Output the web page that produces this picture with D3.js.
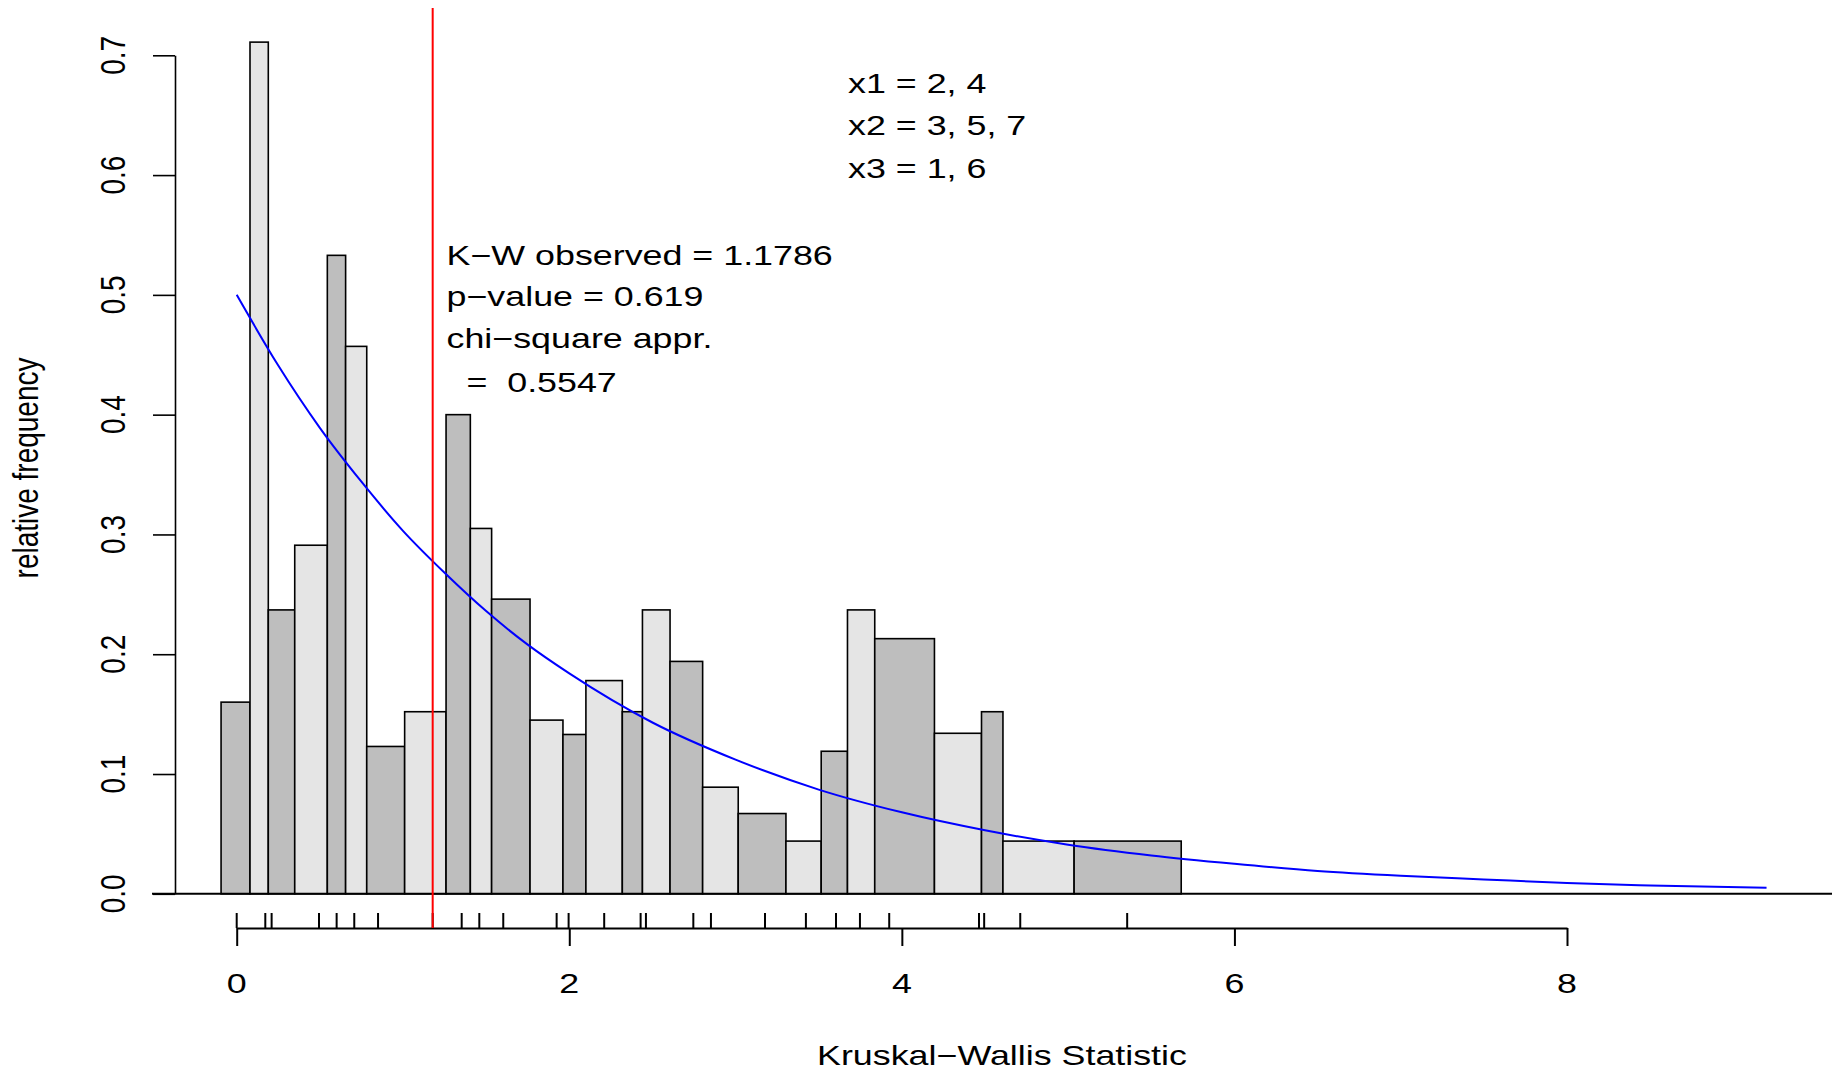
<!DOCTYPE html>
<html>
<head>
<meta charset="utf-8">
<script src="https://cdn.jsdelivr.net/npm/d3@7"></script>
<style>
  body { margin: 0; background: #ffffff; }
  text { font-family: "Liberation Sans", Arial, Helvetica, sans-serif; font-size: 28px; fill: #000; }
</style>
</head>
<body>
<div id="chart"></div>
<script>

//Histogram bins: edges (statistic units) and heights (relative frequency)
var binEdges = [-0.094, 0.080, 0.190, 0.349, 0.545, 0.655, 0.782, 1.010, 1.259, 1.405,
  1.533, 1.764, 1.962, 2.100, 2.319, 2.440, 2.606, 2.802, 3.016, 3.303,
  3.515, 3.673, 3.837, 4.196, 4.479, 4.608, 5.036, 5.680];
var binHeights = [0.160, 0.711, 0.237, 0.291, 0.533, 0.457, 0.123, 0.152, 0.400, 0.305,
  0.246, 0.145, 0.133, 0.178, 0.152, 0.237, 0.194, 0.089, 0.067, 0.044,
  0.119, 0.237, 0.213, 0.134, 0.152, 0.044, 0.044];

//distinct values of the statistic (rug)
var rugValues = [0, 0.172, 0.210, 0.495, 0.601, 0.707, 0.850, 1.1786, 1.353, 1.459,
  1.603, 1.924, 1.996, 2.210, 2.429, 2.461, 2.746, 2.852, 3.177, 3.423,
  3.604, 3.748, 3.924, 4.464, 4.495, 4.712, 5.355];

//chi-square curve
var curveX = [0, 0.25, 0.5, 0.75, 1, 1.25, 1.5, 1.75, 2, 2.5, 3, 3.5, 4, 4.5, 5,
  5.5, 6, 6.5, 7, 7.5, 8, 8.5, 9.2];
var curveY = [0.500, 0.441, 0.389, 0.344, 0.303, 0.268, 0.236, 0.208, 0.184, 0.143,
  0.112, 0.087, 0.068, 0.053, 0.041, 0.032, 0.025, 0.019, 0.015, 0.012,
  0.009, 0.007, 0.005];

var xTicks = [0, 2, 4, 6, 8];
var yTicks = [0, 0.1, 0.2, 0.3, 0.4, 0.5, 0.6, 0.7];
var observed = 1.1786;

var groupLines = ["x1 = 2, 4", "x2 = 3, 5, 7", "x3 = 1, 6"];
var statLines = ["K\u2212W observed = 1.1786", "p\u2212value = 0.619", "chi\u2212square appr.", "  =  0.5547"];

var svgWidth = 1832;
var svgHeight = 1070;
//text in the picture is stretched sideways
var stretch = 1.28;

var svg = d3.select("#chart")
  .append("svg")
  .attr("width", svgWidth)
  .attr("height", svgHeight);

var xScale = d3.scaleLinear()
  .domain([0, 8])
  .range([236.7, 1567]);
var yScale = d3.scaleLinear()
  .domain([0, 0.7])
  .range([893.8, 55.3]);

//helper for stretched text
function addText(x, y, str, anchor, rot) {
  var t = svg.append("text")
    .attr("transform", "translate(" + x + "," + y + ") scale(" + stretch + ",1)" + (rot ? " rotate(-90)" : ""))
    .attr("text-anchor", anchor)
    .text(str);
  return t;
}

//Bars
svg.append("g")
  .selectAll("rect")
  .data(binHeights)
  .enter()
  .append("rect")
  .attr("x", function(d, i) { return xScale(binEdges[i]); })
  .attr("width", function(d, i) { return xScale(binEdges[i + 1]) - xScale(binEdges[i]); })
  .attr("y", function(d) { return yScale(d); })
  .attr("height", function(d) { return yScale(0) - yScale(d); })
  .attr("fill", function(d, i) { return i % 2 === 0 ? "#bebebe" : "#e5e5e5"; })
  .attr("stroke", "#000")
  .attr("stroke-width", 1.6);

//baseline
svg.append("line")
  .attr("x1", 152)
  .attr("x2", svgWidth)
  .attr("y1", yScale(0))
  .attr("y2", yScale(0))
  .attr("stroke", "#000")
  .attr("stroke-width", 2);

//chi-square density
var line = d3.line()
  .x(function(d, i) { return xScale(curveX[i]); })
  .y(function(d) { return yScale(d); })
  .curve(d3.curveMonotoneX);

svg.append("path")
  .attr("d", line(curveY))
  .attr("fill", "none")
  .attr("stroke", "#0000ff")
  .attr("stroke-width", 2);

//Y axis
var yAxis = svg.append("g")
  .attr("transform", "translate(175,0)")
  .call(d3.axisLeft(yScale).tickValues(yTicks).tickSize(22).tickSizeOuter(0).tickFormat(""));
yAxis.selectAll("path, line").attr("stroke", "#000").attr("stroke-width", 1.6);

yTicks.forEach(function(d) {
  addText(125, yScale(d), d3.format(".1f")(d), "middle", true);
});

//X axis with rug
var xAxisY = 928;
var xAxis = svg.append("g")
  .attr("transform", "translate(0," + xAxisY + ")")
  .call(d3.axisBottom(xScale).tickValues(xTicks).tickSize(18).tickSizeOuter(0).tickFormat(""));
xAxis.selectAll("path, line").attr("stroke", "#000").attr("stroke-width", 2);

svg.append("g")
  .selectAll("line")
  .data(rugValues)
  .enter()
  .append("line")
  .attr("x1", function(d) { return xScale(d); })
  .attr("x2", function(d) { return xScale(d); })
  .attr("y1", xAxisY - 15)
  .attr("y2", xAxisY)
  .attr("stroke", "#000")
  .attr("stroke-width", 2);

xTicks.forEach(function(d) {
  addText(xScale(d), 993, d, "middle", false);
});

//observed statistic
svg.append("line")
  .attr("x1", xScale(observed))
  .attr("x2", xScale(observed))
  .attr("y1", 8)
  .attr("y2", xAxisY)
  .attr("stroke", "#ff0000")
  .attr("stroke-width", 2);

//axis titles
addText(1002, 1065, "Kruskal\u2212Wallis Statistic", "middle", false);
addText(38, 468, "relative frequency", "middle", true);

//annotations
var groupY = [93, 135, 178];
groupLines.forEach(function(s, i) {
  addText(848, groupY[i], s, "start", false);
});

var statY = [265, 305.5, 347.5, 392];
statLines.forEach(function(s, i) {
  addText(446.5, statY[i], s, "start", false).style("white-space", "pre");
});

</script>
</body>
</html>
